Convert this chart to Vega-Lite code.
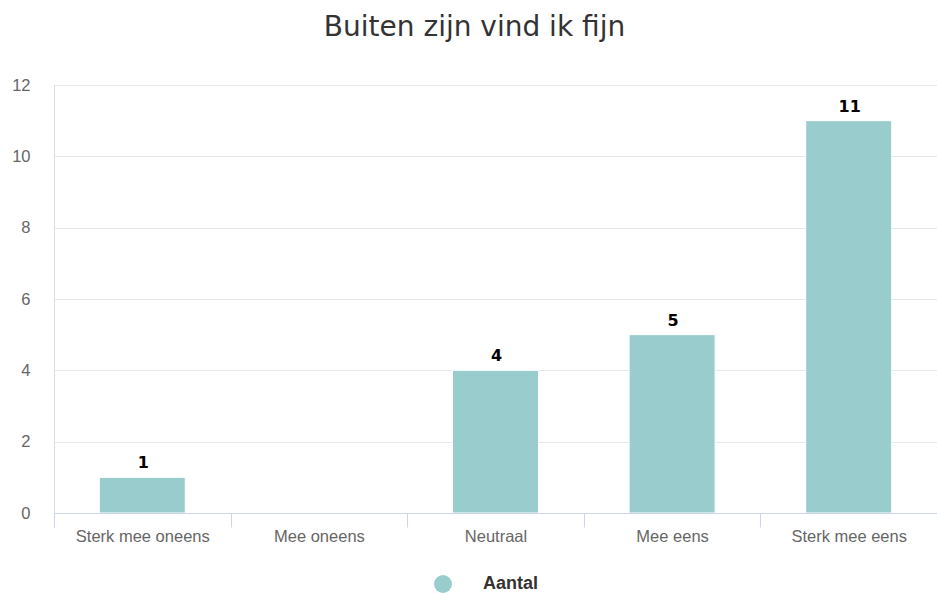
{
  "$schema": "https://vega.github.io/schema/vega-lite/v6.json",
  "width": 883,
  "height": 428,
  "autosize": {"type": "none"},
  "padding": {"left": 54, "top": 85, "right": 0, "bottom": 80},
  "background": "white",
  "title": {
    "text": "Buiten zijn vind ik fijn",
    "font": "DejaVu Sans",
    "fontSize": 28,
    "fontWeight": "normal",
    "color": "#333333",
    "anchor": "middle",
    "baseline": "alphabetic",
    "dx": -21,
    "offset": 13
  },
  "data": {
    "values": [
      {"antwoord": "Sterk mee oneens", "aantal": 1, "reeks": "Aantal"},
      {"antwoord": "Mee oneens", "aantal": 0, "reeks": "Aantal"},
      {"antwoord": "Neutraal", "aantal": 4, "reeks": "Aantal"},
      {"antwoord": "Mee eens", "aantal": 5, "reeks": "Aantal"},
      {"antwoord": "Sterk mee eens", "aantal": 11, "reeks": "Aantal"}
    ]
  },
  "encoding": {
    "x": {
      "field": "antwoord",
      "type": "nominal",
      "sort": null,
      "scale": {"paddingInner": 0, "paddingOuter": 0},
      "axis": {
        "title": null,
        "labelAngle": 0,
        "labelFont": "Liberation Sans",
        "labelFontSize": 16.5,
        "labelColor": "#666666",
        "labelPadding": 1,
        "domainColor": "#ccd6eb",
        "domainWidth": 1,
        "tickColor": "#ccd6eb",
        "tickSize": 14,
        "tickBand": "extent",
        "grid": false,
        "zindex": 1
      }
    },
    "y": {
      "field": "aantal",
      "type": "quantitative",
      "scale": {"domain": [0, 12], "nice": false},
      "axis": {
        "title": null,
        "values": [0, 2, 4, 6, 8, 10, 12],
        "labelFont": "Liberation Sans",
        "labelFontSize": 16.5,
        "labelColor": "#666666",
        "labelPadding": 24,
        "ticks": false,
        "domain": false,
        "grid": true,
        "gridColor": "#e6e6e6",
        "gridWidth": 1
      }
    }
  },
  "layer": [
    {
      "mark": {"type": "bar", "stroke": "white", "strokeWidth": 1, "width": {"band": 0.487}},
      "encoding": {
        "color": {
          "field": "reeks",
          "type": "nominal",
          "scale": {"range": ["#99cccc"]},
          "legend": {
            "orient": "none",
            "legendX": 380,
            "legendY": 490,
            "title": null,
            "symbolType": "circle",
            "symbolSize": 324,
            "symbolStrokeWidth": 0,
            "labelFont": "Liberation Sans",
            "labelFontSize": 18,
            "labelFontWeight": "bold",
            "labelColor": "#333333",
            "labelOffset": 31,
            "padding": 0
          }
        }
      }
    },
    {
      "transform": [{"filter": "datum.aantal > 0"}],
      "mark": {
        "type": "text",
        "font": "DejaVu Sans",
        "fontSize": 16,
        "fontWeight": "bold",
        "color": "#000000",
        "baseline": "alphabetic",
        "dy": -9,
        "dx": 1
      },
      "encoding": {"text": {"field": "aantal", "type": "quantitative"}}
    }
  ]
}
